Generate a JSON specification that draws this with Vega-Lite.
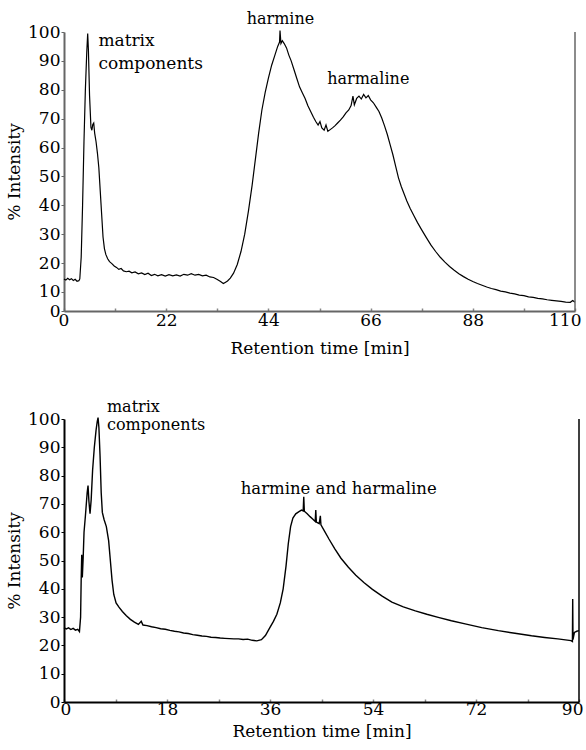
{
  "$schema": "https://vega.github.io/schema/vega-lite/v6.json",
  "background": "white",
  "padding": {"left": 5, "top": 11, "right": 0, "bottom": 0},
  "spacing": 108,
  "bounds": "flush",
  "config": {
    "view": {"stroke": null},
    "axis": {"labelFontSize": 17, "titleFontSize": 17, "titleFontWeight": "normal", "labelColor": "black", "titleColor": "black", "grid": false, "labelFont": "DejaVu Serif", "titleFont": "DejaVu Serif"}
  },
  "datasets": {
    "top": [
      {"t":0,"v":14.5},{"t":0.4,"v":14.1},{"t":0.8,"v":14.7},{"t":1.2,"v":14.2},{"t":1.6,"v":14.6},{"t":2.0,"v":14.0},{"t":2.4,"v":14.4},{"t":2.8,"v":13.7},{"t":3.2,"v":13.9},{"t":3.4,"v":14.5},{"t":3.7,"v":22},{"t":4.0,"v":40},{"t":4.3,"v":62},{"t":4.6,"v":80},{"t":4.9,"v":93},{"t":5.1,"v":99.5},{"t":5.25,"v":94},{"t":5.5,"v":78},{"t":5.8,"v":67},{"t":6.0,"v":66},{"t":6.2,"v":68},{"t":6.4,"v":68.5},{"t":6.6,"v":65},{"t":6.9,"v":62},{"t":7.2,"v":58},{"t":7.5,"v":53},{"t":7.8,"v":45},{"t":8.1,"v":37},{"t":8.4,"v":29},{"t":8.7,"v":25},{"t":9.0,"v":23},{"t":9.4,"v":21.5},{"t":9.8,"v":20.5},{"t":10.3,"v":19.8},{"t":10.8,"v":19.0},{"t":11.3,"v":18.5},{"t":11.8,"v":17.8},{"t":12.3,"v":18.1},{"t":12.8,"v":17.3},{"t":13.4,"v":17.0},{"t":14.0,"v":17.2},{"t":14.6,"v":16.6},{"t":15.3,"v":16.9},{"t":16.0,"v":16.3},{"t":16.7,"v":16.6},{"t":17.4,"v":16.0},{"t":18.1,"v":16.5},{"t":18.8,"v":15.7},{"t":19.5,"v":16.1},{"t":20.2,"v":15.6},{"t":21.0,"v":16.0},{"t":21.8,"v":15.5},{"t":22.6,"v":16.0},{"t":23.4,"v":15.6},{"t":24.2,"v":15.9},{"t":25.0,"v":15.5},{"t":25.8,"v":16.1},{"t":26.6,"v":15.8},{"t":27.4,"v":16.3},{"t":28.2,"v":15.8},{"t":29.0,"v":16.1},{"t":29.8,"v":15.6},{"t":30.6,"v":15.8},{"t":31.4,"v":15.2},{"t":32.2,"v":15.0},{"t":33.0,"v":14.3},{"t":33.7,"v":13.6},{"t":34.3,"v":12.9},{"t":34.7,"v":13.3},{"t":35.2,"v":13.8},{"t":35.8,"v":14.8},{"t":36.5,"v":16.5},{"t":37.3,"v":19.5},{"t":38.1,"v":24},{"t":38.9,"v":30},{"t":39.7,"v":38},{"t":40.5,"v":47},{"t":41.2,"v":56},{"t":41.9,"v":65},{"t":42.6,"v":73},{"t":43.3,"v":79},{"t":44.0,"v":84},{"t":44.7,"v":88.5},{"t":45.4,"v":92},{"t":46.0,"v":95},{"t":46.4,"v":96.5},{"t":46.5,"v":100.5},{"t":46.7,"v":96},{"t":47.0,"v":97},{"t":47.4,"v":96},{"t":47.9,"v":94.5},{"t":48.4,"v":92},{"t":48.9,"v":90},{"t":49.5,"v":87},{"t":50.1,"v":84},{"t":50.7,"v":81},{"t":51.3,"v":79},{"t":51.9,"v":77},{"t":52.5,"v":74.5},{"t":53.1,"v":72.5},{"t":53.7,"v":70.5},{"t":54.2,"v":69},{"t":54.7,"v":67.8},{"t":55.1,"v":69},{"t":55.5,"v":66.8},{"t":56.0,"v":66},{"t":56.4,"v":67.8},{"t":56.8,"v":65.6},{"t":57.3,"v":66.2},{"t":57.8,"v":66.8},{"t":58.3,"v":67.5},{"t":58.9,"v":68.5},{"t":59.5,"v":69.5},{"t":60.1,"v":70.6},{"t":60.7,"v":72},{"t":61.3,"v":73},{"t":61.8,"v":74.5},{"t":62.2,"v":77.8},{"t":62.5,"v":74.8},{"t":63.0,"v":77},{"t":63.5,"v":77.8},{"t":64.0,"v":76.8},{"t":64.5,"v":78.4},{"t":65.0,"v":77.2},{"t":65.5,"v":78},{"t":66.0,"v":76.5},{"t":66.6,"v":75.5},{"t":67.2,"v":74},{"t":67.8,"v":72.5},{"t":68.4,"v":70.2},{"t":69.0,"v":67.5},{"t":69.6,"v":64.5},{"t":70.2,"v":61},{"t":70.8,"v":57.5},{"t":71.4,"v":53.5},{"t":72.0,"v":49.5},{"t":72.6,"v":46.5},{"t":73.2,"v":44},{"t":73.8,"v":41.5},{"t":74.5,"v":39},{"t":75.3,"v":36.5},{"t":76.1,"v":34},{"t":77.0,"v":31.5},{"t":78.0,"v":28.8},{"t":79.0,"v":26.2},{"t":80.0,"v":24},{"t":81.0,"v":22},{"t":82.0,"v":20.3},{"t":83.0,"v":18.8},{"t":84.0,"v":17.5},{"t":85.0,"v":16.3},{"t":86.0,"v":15.3},{"t":87.0,"v":14.4},{"t":88.0,"v":13.6},{"t":89.0,"v":12.9},{"t":90.0,"v":12.3},{"t":91.0,"v":11.7},{"t":92.0,"v":11.2},{"t":93.0,"v":10.8},{"t":94.0,"v":10.3},{"t":95.0,"v":10.0},{"t":96.0,"v":9.6},{"t":97.0,"v":9.3},{"t":98.0,"v":8.9},{"t":99.0,"v":8.7},{"t":100.0,"v":8.3},{"t":101.0,"v":8.1},{"t":102.0,"v":7.8},{"t":103.0,"v":7.6},{"t":104.0,"v":7.3},{"t":105.0,"v":7.1},{"t":106.0,"v":6.9},{"t":107.0,"v":6.7},{"t":108.0,"v":6.5},{"t":109.0,"v":6.4},{"t":109.5,"v":7.0},{"t":110.0,"v":6.4}
    ],
    "bottom": [
      {"t":0,"v":26.3},{"t":0.4,"v":25.8},{"t":0.8,"v":26.2},{"t":1.2,"v":25.6},{"t":1.6,"v":26.0},{"t":2.0,"v":25.4},{"t":2.4,"v":25.7},{"t":2.7,"v":24.9},{"t":2.9,"v":30},{"t":3.0,"v":43},{"t":3.1,"v":52},{"t":3.2,"v":44},{"t":3.35,"v":51},{"t":3.5,"v":60},{"t":3.75,"v":66},{"t":4.05,"v":74},{"t":4.2,"v":76.5},{"t":4.35,"v":71},{"t":4.55,"v":66.5},{"t":4.75,"v":71.5},{"t":5.0,"v":82},{"t":5.3,"v":90},{"t":5.6,"v":96},{"t":5.8,"v":99},{"t":5.95,"v":100.5},{"t":6.1,"v":97},{"t":6.3,"v":87},{"t":6.5,"v":74},{"t":6.7,"v":67},{"t":7.0,"v":64.5},{"t":7.4,"v":62},{"t":7.8,"v":57},{"t":8.1,"v":50},{"t":8.4,"v":43},{"t":8.7,"v":38},{"t":9.1,"v":35},{"t":9.6,"v":33.5},{"t":10.2,"v":32},{"t":10.9,"v":30.5},{"t":11.6,"v":29.2},{"t":12.3,"v":28.2},{"t":13.0,"v":27.4},{"t":13.5,"v":28.5},{"t":13.8,"v":27.2},{"t":14.5,"v":27.0},{"t":15.3,"v":26.6},{"t":16.1,"v":26.3},{"t":16.9,"v":25.9},{"t":17.7,"v":25.7},{"t":18.5,"v":25.3},{"t":19.3,"v":25.0},{"t":20.1,"v":24.8},{"t":20.9,"v":24.4},{"t":21.7,"v":24.2},{"t":22.5,"v":23.8},{"t":23.3,"v":23.6},{"t":24.1,"v":23.3},{"t":24.9,"v":23.2},{"t":25.7,"v":22.9},{"t":26.5,"v":22.8},{"t":27.3,"v":22.6},{"t":28.1,"v":22.5},{"t":28.9,"v":22.4},{"t":29.7,"v":22.3},{"t":30.5,"v":22.3},{"t":31.3,"v":22.1},{"t":32.1,"v":22.2},{"t":32.9,"v":21.8},{"t":33.7,"v":21.6},{"t":34.5,"v":22.0},{"t":35.2,"v":23.5},{"t":35.9,"v":26},{"t":36.6,"v":28.5},{"t":37.2,"v":31},{"t":37.8,"v":35},{"t":38.3,"v":40},{"t":38.8,"v":48},{"t":39.2,"v":56},{"t":39.6,"v":62},{"t":40.0,"v":65},{"t":40.5,"v":66.5},{"t":41.0,"v":67.2},{"t":41.5,"v":67.8},{"t":41.8,"v":67.5},{"t":41.9,"v":72.5},{"t":42.0,"v":67.4},{"t":42.5,"v":66.5},{"t":43.0,"v":65.5},{"t":43.5,"v":64.6},{"t":43.9,"v":63.8},{"t":44.0,"v":67.8},{"t":44.1,"v":63.6},{"t":44.6,"v":63},{"t":44.8,"v":65.8},{"t":44.9,"v":62.6},{"t":45.5,"v":60.5},{"t":46.3,"v":57.6},{"t":47.3,"v":54.2},{"t":48.4,"v":50.8},{"t":49.7,"v":47.6},{"t":51.0,"v":44.8},{"t":52.4,"v":42.2},{"t":53.9,"v":39.8},{"t":55.6,"v":37.4},{"t":57.3,"v":35.3},{"t":59.3,"v":33.6},{"t":61.4,"v":32.2},{"t":63.4,"v":31.0},{"t":65.4,"v":29.9},{"t":67.7,"v":28.7},{"t":70.1,"v":27.6},{"t":73.0,"v":26.3},{"t":75.9,"v":25.2},{"t":78.8,"v":24.3},{"t":81.7,"v":23.4},{"t":84.0,"v":22.8},{"t":86.3,"v":22.3},{"t":88.6,"v":21.7},{"t":88.85,"v":21.4},{"t":88.9,"v":36.4},{"t":88.95,"v":22.0},{"t":89.2,"v":24.6},{"t":89.6,"v":25.0},{"t":90,"v":25.2}
    ],
    "topLeftNotes": [
      {"t": 7.4, "v": 96.9, "label": "matrix"},
      {"t": 7.4, "v": 88.9, "label": "components"}
    ],
    "topCenterNotes": [
      {"t": 46.6, "v": 104.5, "label": "harmine"},
      {"t": 65.5, "v": 83.7, "label": "harmaline"}
    ],
    "bottomNotes": [
      {"t": 7.5, "v": 104.4, "label": "matrix"},
      {"t": 7.5, "v": 97.9, "label": "components"}
    ],
    "bottomNotes2": [
      {"t": 48.0, "v": 75.3, "label": "harmine and harmaline"}
    ]
  },
  "vconcat": [
    {
      "width": 511,
      "height": 279,
      "layer": [
        {
          "data": {"name": "top"},
          "mark": {"type": "line", "color": "black", "strokeWidth": 1.2},
          "encoding": {
            "x": {"field": "t", "type": "quantitative", "scale": {"domain": [0, 110], "nice": false, "zero": false},
              "axis": {"title": "Retention time [min]", "tickCount": 11, "labelOverlap": false, "values": [0, 11, 22, 33, 44, 55, 66, 77, 88, 99, 110], "labelExpr": "datum.value % 22 === 0 ? datum.label : ''", "domainColor": "#666", "domainWidth": 2, "tickColor": "#888", "tickSize": -3, "tickWidth": 1.5, "labelPadding": 4, "labelFlush": true, "labelFlushOffset": 6, "titlePadding": 12}},
            "y": {"field": "v", "type": "quantitative", "scale": {"domain": [3.4, 100], "nice": false, "zero": false},
              "axis": {"title": "% Intensity", "tickCount": 11, "labelOverlap": false, "values": [3.4, 10, 20, 30, 40, 50, 60, 70, 80, 90, 100], "labelExpr": "datum.value < 5 ? '0' : datum.label", "domainColor": "#666", "domainWidth": 2, "tickColor": "#666", "tickSize": 3, "labelPadding": 1, "titlePadding": 4}}
          }
        },
        {
          "data": {"values": [{}]},
          "mark": {"type": "rule", "color": "#666", "strokeWidth": 1.5},
          "encoding": {"x": {"datum": 110}, "y": {"datum": 3.4}, "y2": {"datum": 100}}
        },
        {
          "data": {"name": "topLeftNotes"},
          "mark": {"type": "text", "baseline": "middle", "align": "left", "fontSize": 17, "font": "DejaVu Serif", "color": "black"},
          "encoding": {
            "x": {"field": "t", "type": "quantitative"},
            "y": {"field": "v", "type": "quantitative"},
            "text": {"field": "label"}
          }
        },
        {
          "data": {"name": "topCenterNotes"},
          "mark": {"type": "text", "baseline": "middle", "align": "center", "fontSize": 16, "font": "DejaVu Serif", "color": "black"},
          "encoding": {
            "x": {"field": "t", "type": "quantitative"},
            "y": {"field": "v", "type": "quantitative"},
            "text": {"field": "label"}
          }
        }
      ]
    },
    {
      "width": 515,
      "height": 283,
      "layer": [
        {
          "data": {"name": "bottom"},
          "mark": {"type": "line", "color": "black", "strokeWidth": 1.4},
          "encoding": {
            "x": {"field": "t", "type": "quantitative", "scale": {"domain": [0, 90], "nice": false, "zero": false},
              "axis": {"title": "Retention time [min]", "tickCount": 11, "labelOverlap": false, "values": [0, 9, 18, 27, 36, 45, 54, 63, 72, 81, 90], "labelExpr": "datum.value % 18 === 0 ? datum.label : ''", "domainColor": "black", "domainWidth": 2, "tickColor": "#888", "tickSize": -3, "tickWidth": 1.5, "labelPadding": 2, "labelFlush": true, "labelFlushOffset": 4, "titlePadding": 6}},
            "y": {"field": "v", "type": "quantitative", "scale": {"domain": [0, 100], "nice": false, "zero": false},
              "axis": {"title": "% Intensity", "tickCount": 11, "labelOverlap": false, "values": [0, 10, 20, 30, 40, 50, 60, 70, 80, 90, 100], "domainColor": "black", "domainWidth": 2, "tickColor": "black", "tickSize": 3, "labelPadding": 1, "titlePadding": 4}}
          }
        },
        {
          "data": {"values": [{}]},
          "mark": {"type": "rule", "color": "black", "strokeWidth": 1.5},
          "encoding": {"x": {"datum": 90}, "y": {"datum": 0}, "y2": {"datum": 100}}
        },
        {
          "data": {"name": "bottomNotes"},
          "mark": {"type": "text", "baseline": "middle", "align": "left", "fontSize": 16, "font": "DejaVu Serif", "color": "black"},
          "encoding": {
            "x": {"field": "t", "type": "quantitative"},
            "y": {"field": "v", "type": "quantitative"},
            "text": {"field": "label"}
          }
        },
        {
          "data": {"name": "bottomNotes2"},
          "mark": {"type": "text", "baseline": "middle", "align": "center", "fontSize": 16.5, "font": "DejaVu Serif", "color": "black"},
          "encoding": {
            "x": {"field": "t", "type": "quantitative"},
            "y": {"field": "v", "type": "quantitative"},
            "text": {"field": "label"}
          }
        }
      ]
    }
  ]
}
